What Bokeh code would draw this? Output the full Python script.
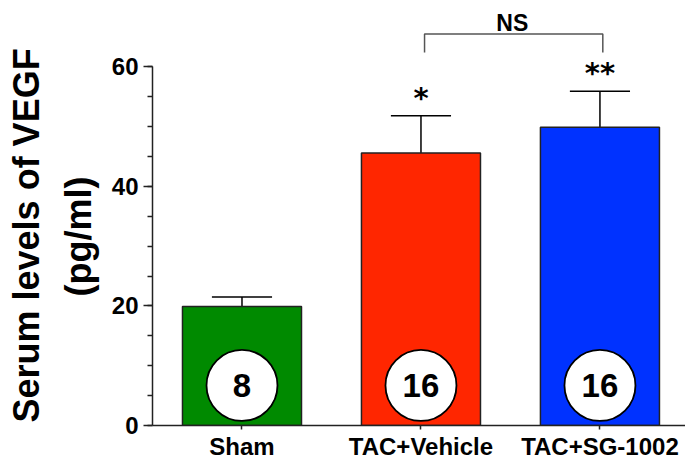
from bokeh.plotting import figure
from bokeh.models import (Range1d, SingleIntervalTicker, FixedTicker, Title,
                          ColumnDataSource)
from bokeh.core.properties import value
from bokeh.embed import file_html
from bokeh.resources import INLINE

# Serum VEGF by group (mean, SEM, group size)
groups = ["Sham", "TAC+Vehicle", "TAC+SG-1002"]
vegf_mean = [19.9, 45.6, 49.9]
vegf_sem = [1.6, 6.2, 6.0]
n_animals = [8, 16, 16]
significance = ["", "*", "**"]
bar_colors = ["#008a00", "#ff2600", "#0032ff"]
y_title = ["Serum levels of VEGF", "(pg/ml)"]

FONT = "Liberation Sans"
pos = list(range(len(groups)))

p = figure(width=685, height=462,
           x_range=Range1d(-0.5, 2.478), y_range=Range1d(0, 71.1),
           output_backend="svg", toolbar_location=None,
           min_border_left=152, min_border_right=0,
           min_border_top=0, min_border_bottom=36)
p.outline_line_color = None
p.grid.visible = False
p.background_fill_color = "white"
p.border_fill_color = "white"

src = ColumnDataSource(dict(
    x=pos, mean=vegf_mean,
    top=[m + s for m, s in zip(vegf_mean, vegf_sem)],
    cap_l=[x - 0.168 for x in pos], cap_r=[x + 0.168 for x in pos],
    color=bar_colors, n=[str(v) for v in n_animals], sig=significance,
))

# upper error bars
p.segment(x0="x", y0="mean", x1="x", y1="top", source=src,
          line_color="black", line_width=1.5)
p.segment(x0="cap_l", y0="top", x1="cap_r", y1="top", source=src,
          line_color="black", line_width=1.5)

# bars
p.vbar(x="x", top="mean", bottom=0, width=0.665, source=src,
       fill_color="color", line_color="#222222", line_width=1.5)

# group-size badges
p.scatter(x="x", y=6.7, size=71, marker="circle", source=src,
          fill_color="white", line_color="black", line_width=1.8)
p.text(x="x", y=6.7, text="n", source=src, text_align="center",
       text_baseline="middle", text_font=value(FONT), text_font_style="bold",
       text_font_size="33px", text_color="black")

# significance stars
p.text(x="x", y="top", text="sig", source=src, text_align="center",
       text_baseline="alphabetic", y_offset=-18,
       text_font=value("DejaVu Sans"), text_font_style="bold",
       text_font_size="29px", text_color="black")

# NS bracket between the two TAC groups
p.line(x=[1.02, 1.02, 2.016, 2.016], y=[62.4, 65.5, 65.5, 62.4],
       line_color="#555555", line_width=1.5)
p.text(x=[1.51], y=[67.3], text=["NS"], text_align="center",
       text_baseline="alphabetic", text_font=value(FONT),
       text_font_style="bold", text_font_size="23px", text_color="black")

# axes
xa = p.xaxis[0]
xa.ticker = FixedTicker(ticks=pos)
xa.major_label_overrides = {i: g for i, g in enumerate(groups)}
xa.major_tick_out = 4
xa.major_tick_in = 0
xa.minor_tick_line_color = None
xa.major_label_standoff = 3
xa.axis_line_width = 1.5
xa.axis_line_color = "#222222"
xa.major_tick_line_color = "#222222"
xa.major_tick_line_width = 1.5
xa.major_label_text_font = FONT
xa.major_label_text_font_style = "bold"
xa.major_label_text_font_size = "24px"
xa.major_label_text_color = "black"

ya = p.yaxis[0]
ya.ticker = SingleIntervalTicker(interval=20, num_minor_ticks=4)
ya.bounds = (0, 60)
ya.major_tick_out = 9
ya.major_tick_in = 0
ya.minor_tick_out = 5
ya.minor_tick_in = 0
ya.major_label_standoff = 5
ya.axis_line_width = 1.5
ya.axis_line_color = "#222222"
ya.major_tick_line_color = "#222222"
ya.major_tick_line_width = 1.5
ya.minor_tick_line_color = "#222222"
ya.minor_tick_line_width = 1.5
ya.major_label_text_font = FONT
ya.major_label_text_font_style = "bold"
ya.major_label_text_font_size = "24px"
ya.major_label_text_color = "black"

# two-line y title: each line bottom-anchored, shifted up so that both
# lines share the same centre, stacked outward from the axis
title_style = dict(align="left", text_font=FONT, text_font_style="bold",
                   text_font_size="36px", text_color="black")
p.add_layout(Title(text=y_title[1], offset=129, standoff=19, **title_style),
             "left")
p.add_layout(Title(text=y_title[0], offset=3, standoff=0, **title_style),
             "left")

open("out.html", "w").write(file_html(p, INLINE))
